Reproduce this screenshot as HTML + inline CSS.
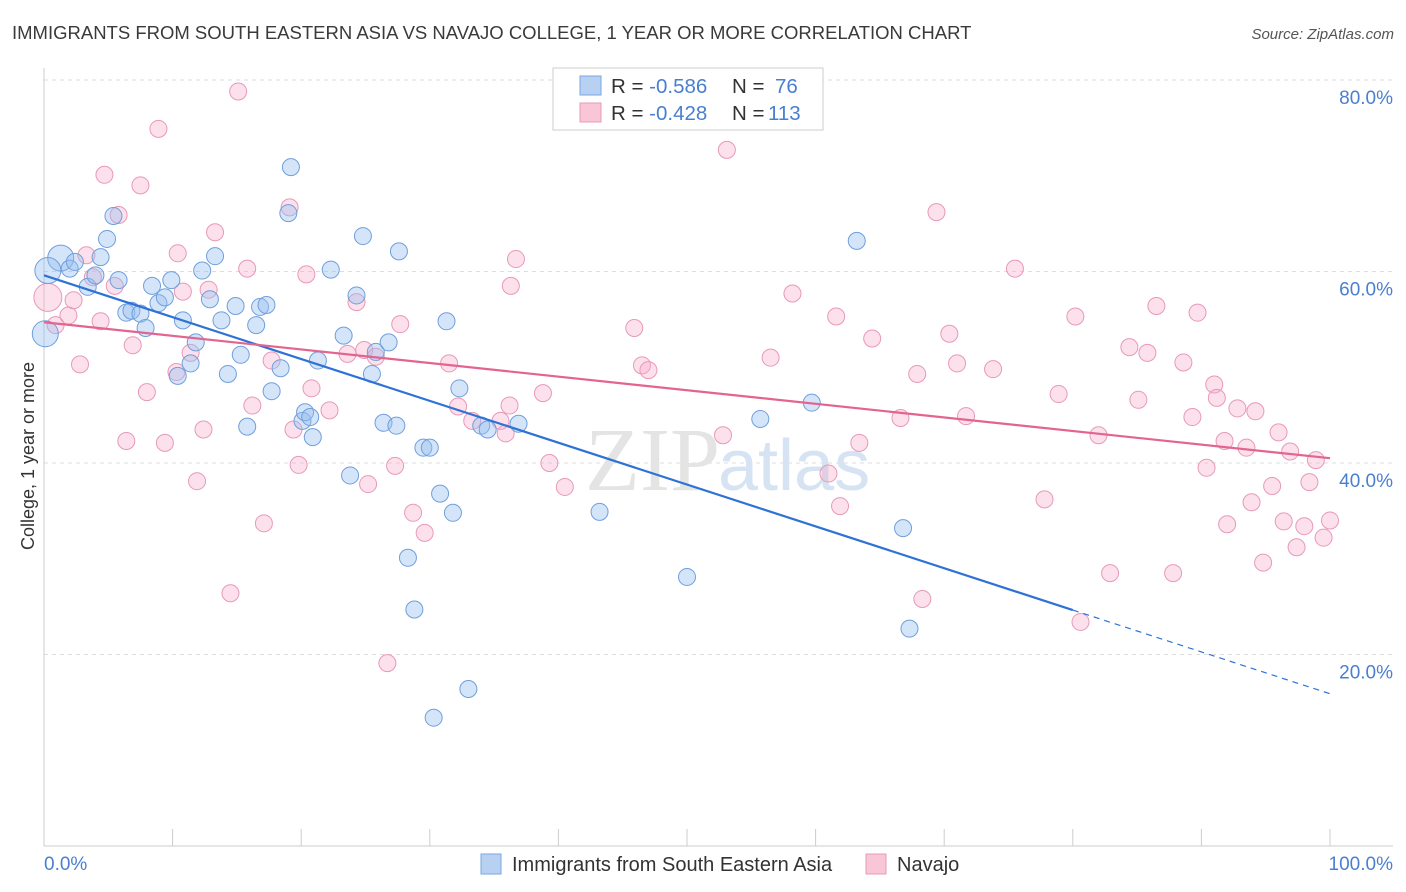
<!DOCTYPE html>
<html><head><meta charset="utf-8">
<style>
body{margin:0;background:#fff;font-family:"Liberation Sans",sans-serif;}
svg{display:block}
</style></head>
<body>
<svg id="chart" width="1406" height="892">
<text x="12" y="39" font-size="18.5" fill="#3a3a3a">IMMIGRANTS FROM SOUTH EASTERN ASIA VS NAVAJO COLLEGE, 1 YEAR OR MORE CORRELATION CHART</text>
<text x="1394" y="39" font-size="15" fill="#555" font-style="italic" text-anchor="end">Source: ZipAtlas.com</text>
<g id="grid"></g>
<text x="720" y="490" font-size="90" fill="#e4e4e4" text-anchor="end" font-family="Liberation Serif,serif">ZIP</text>
<text x="718" y="490" font-size="72" fill="#d5e3f3">atlas</text>
<g id="pts"></g>
<g id="lines"></g>
<text transform="translate(34,456) rotate(-90)" font-size="18" fill="#333" text-anchor="middle">College, 1 year or more</text>
<text x="44" y="870" font-size="19" fill="#4a7fd0">0.0%</text>
<text x="1393" y="870" font-size="19" fill="#4a7fd0" text-anchor="end">100.0%</text>
<g>
<rect x="553" y="68" width="270" height="62" fill="#fff" stroke="#ccc"/>
<rect x="580" y="76" width="21" height="19" fill="#b8d1f3" stroke="#7aa7e0"/>
<rect x="580" y="103" width="21" height="19" fill="#f8c6d7" stroke="#e89ab8"/>
<text x="611" y="93" font-size="20.5" fill="#333">R = <tspan fill="#4a7fd0">-0.586</tspan><tspan x="732">N = </tspan><tspan x="775" fill="#4a7fd0">76</tspan></text>
<text x="611" y="120" font-size="20.5" fill="#333">R = <tspan fill="#4a7fd0">-0.428</tspan><tspan x="732">N = </tspan><tspan x="768" fill="#4a7fd0">113</tspan></text>
</g>
<g>
<rect x="481" y="854" width="20" height="20" fill="#b8d1f3" stroke="#7aa7e0"/>
<text x="512" y="871" font-size="20" fill="#333">Immigrants from South Eastern Asia</text>
<rect x="866" y="854" width="20" height="20" fill="#f8c6d7" stroke="#e89ab8"/>
<text x="897" y="871" font-size="20" fill="#333">Navajo</text>
</g>
</svg>
<script>
const yTicks=[20,40,60,80];
const yTickLabels=["20.0%","40.0%","60.0%","80.0%"];
const xTicks=[0,10,20,30,40,50,60,70,80,90,100];
const blueX=[1.3,0.3,0.1,2.0,2.4,3.4,4.0,4.4,4.9,5.4,5.8,6.4,6.8,7.5,7.9,8.4,8.9,9.4,9.9,10.4,10.8,11.4,11.8,12.3,12.9,13.3,13.8,14.3,14.9,15.3,15.8,16.5,16.8,17.3,17.7,18.4,19.0,19.2,20.1,20.3,20.7,20.9,21.3,22.3,23.3,23.8,24.3,24.8,25.5,25.8,26.4,26.8,27.4,27.6,28.3,28.8,29.5,30.0,30.3,30.8,31.3,31.8,32.3,33.0,34.0,34.5,36.9,43.2,50.0,55.7,59.7,63.2,66.8,67.3];
const blueY=[61.4,60.1,53.5,60.3,61.0,58.4,59.6,61.5,63.4,65.8,59.1,55.7,55.9,55.6,54.1,58.5,56.7,57.3,59.1,49.1,54.9,50.4,52.6,60.1,57.1,61.6,54.9,49.3,56.4,51.3,43.8,54.4,56.3,56.5,47.5,49.9,66.1,70.9,44.4,45.3,44.8,42.7,50.7,60.2,53.3,38.7,57.5,63.7,49.3,51.6,44.2,52.6,43.9,62.1,30.1,24.7,41.6,41.6,13.4,36.8,54.8,34.8,47.8,16.4,43.9,43.5,44.1,34.9,28.1,44.6,46.3,63.2,33.2,22.7];
const blueBig=[0,1,2];
const pinkX=[0.3,0.9,1.9,2.3,2.8,3.3,3.8,4.4,4.7,5.5,5.8,6.4,6.9,7.5,8.0,8.9,9.4,10.3,10.8,10.4,11.4,11.9,12.4,12.8,13.3,14.5,15.1,15.8,16.2,17.1,17.7,19.1,19.4,19.8,20.4,20.8,22.2,23.6,24.3,24.9,25.2,25.8,26.7,27.3,27.7,28.7,29.6,31.5,32.2,33.3,35.5,35.9,36.2,36.7,36.3,38.8,39.3,40.5,45.9,46.5,47.0,52.8,53.1,56.5,58.2,61.0,61.6,61.9,63.4,64.4,66.6,67.9,68.3,69.4,70.4,71.0,71.7,73.8,75.5,77.8,78.9,80.2,80.6,82.0,82.9,84.4,85.1,85.8,86.5,87.8,88.6,89.3,89.7,90.4,91.0,91.2,91.8,92.0,92.8,93.5,93.9,94.2,94.8,95.5,96.0,96.4,96.9,97.4,98.0,98.4,98.9,99.5,100.0];
const pinkY=[57.3,54.4,55.4,57.0,50.3,61.7,59.4,54.8,70.1,58.5,65.9,42.3,52.3,69.0,47.4,74.9,42.1,49.5,57.9,61.9,51.5,38.1,43.5,58.1,64.1,26.4,78.8,60.3,46.0,33.7,50.7,66.7,43.5,39.8,59.7,47.8,45.5,51.4,56.8,51.8,37.8,51.1,19.1,39.7,54.5,34.8,32.7,50.4,45.9,44.4,44.4,43.1,46.0,61.3,58.5,47.3,40.0,37.5,54.1,50.2,49.7,42.9,72.7,51.0,57.7,38.9,55.3,35.5,42.1,53.0,44.7,49.3,25.8,66.2,53.5,50.4,44.9,49.8,60.3,36.2,47.2,55.3,23.4,42.9,28.5,52.1,46.6,51.5,56.4,28.5,50.5,44.8,55.7,39.5,48.2,46.8,42.3,33.6,45.7,41.6,35.9,45.4,29.6,37.6,43.2,33.9,41.2,31.2,33.4,38.0,40.3,32.2,34.0];
const pinkBig=[0];
const blueTrend=[59.6,15.9];
const pinkTrend=[54.7,40.5];
const blueSolidEnd=80;

const X0=44,X1=1330,Y0=846,Y80=80;
const sx=v=>X0+(X1-X0)*v/100;
const sy=v=>Y0-(Y0-Y80)*v/80;
const NS="http://www.w3.org/2000/svg";
function mk(t,a,p){const e=document.createElementNS(NS,t);for(const k in a)e.setAttribute(k,a[k]);p.appendChild(e);return e;}
const grid=document.getElementById('grid');
yTicks.forEach((t,i)=>{
 const l=mk('line',{x1:X0,x2:1393,y1:sy(t),y2:sy(t),stroke:'#ddd','stroke-dasharray':'4,4'},grid);
 
 
 const tx=mk('text',{x:1393,y:sy(t)+24,'font-size':19,fill:'#4a7fd0','text-anchor':'end'},grid);
 tx.textContent=yTickLabels[i];
 
 
});
mk('line',{x1:X0,x2:1393,y1:Y0,y2:Y0,stroke:'#ccc'},grid);
mk('line',{x1:X0,x2:X0,y1:68,y2:Y0,stroke:'#ccc'},grid);
xTicks.forEach(t=>{
 const l=mk('line',{x1:sx(t),x2:sx(t),y1:Y0,y2:Y0-17,stroke:'#ccc'},grid);
 
 
});
const pts=document.getElementById('pts');
pinkX.forEach((x,i)=>{
 const c=mk('circle',{cx:sx(x),cy:sy(pinkY[i]),r:pinkBig.includes(i)?14:8.5,fill:'rgba(245,170,200,0.35)',stroke:'#e899b8','stroke-width':1},pts);
 
 
});
blueX.forEach((x,i)=>{
 const c=mk('circle',{cx:sx(x),cy:sy(blueY[i]),r:blueBig.includes(i)?13:8.5,fill:'rgba(150,190,240,0.4)',stroke:'#6f9fdc','stroke-width':1},pts);
 
 
});
const lines=document.getElementById('lines');
const by=x=>blueTrend[0]+(blueTrend[1]-blueTrend[0])*x/100;
const py=x=>pinkTrend[0]+(pinkTrend[1]-pinkTrend[0])*x/100;
const l1=mk('line',{x1:sx(0),y1:sy(by(0)),x2:sx(blueSolidEnd),y2:sy(by(blueSolidEnd)),stroke:'#2f72d6','stroke-width':2.2},lines);


const l2=mk('line',{x1:sx(blueSolidEnd),y1:sy(by(blueSolidEnd)),x2:sx(100),y2:sy(by(100)),stroke:'#2f72d6','stroke-width':1.2,'stroke-dasharray':'6,5'},lines);


const l3=mk('line',{x1:sx(0),y1:sy(py(0)),x2:sx(100),y2:sy(py(100)),stroke:'#e2648f','stroke-width':2.2},lines);


</script>
</body></html>
